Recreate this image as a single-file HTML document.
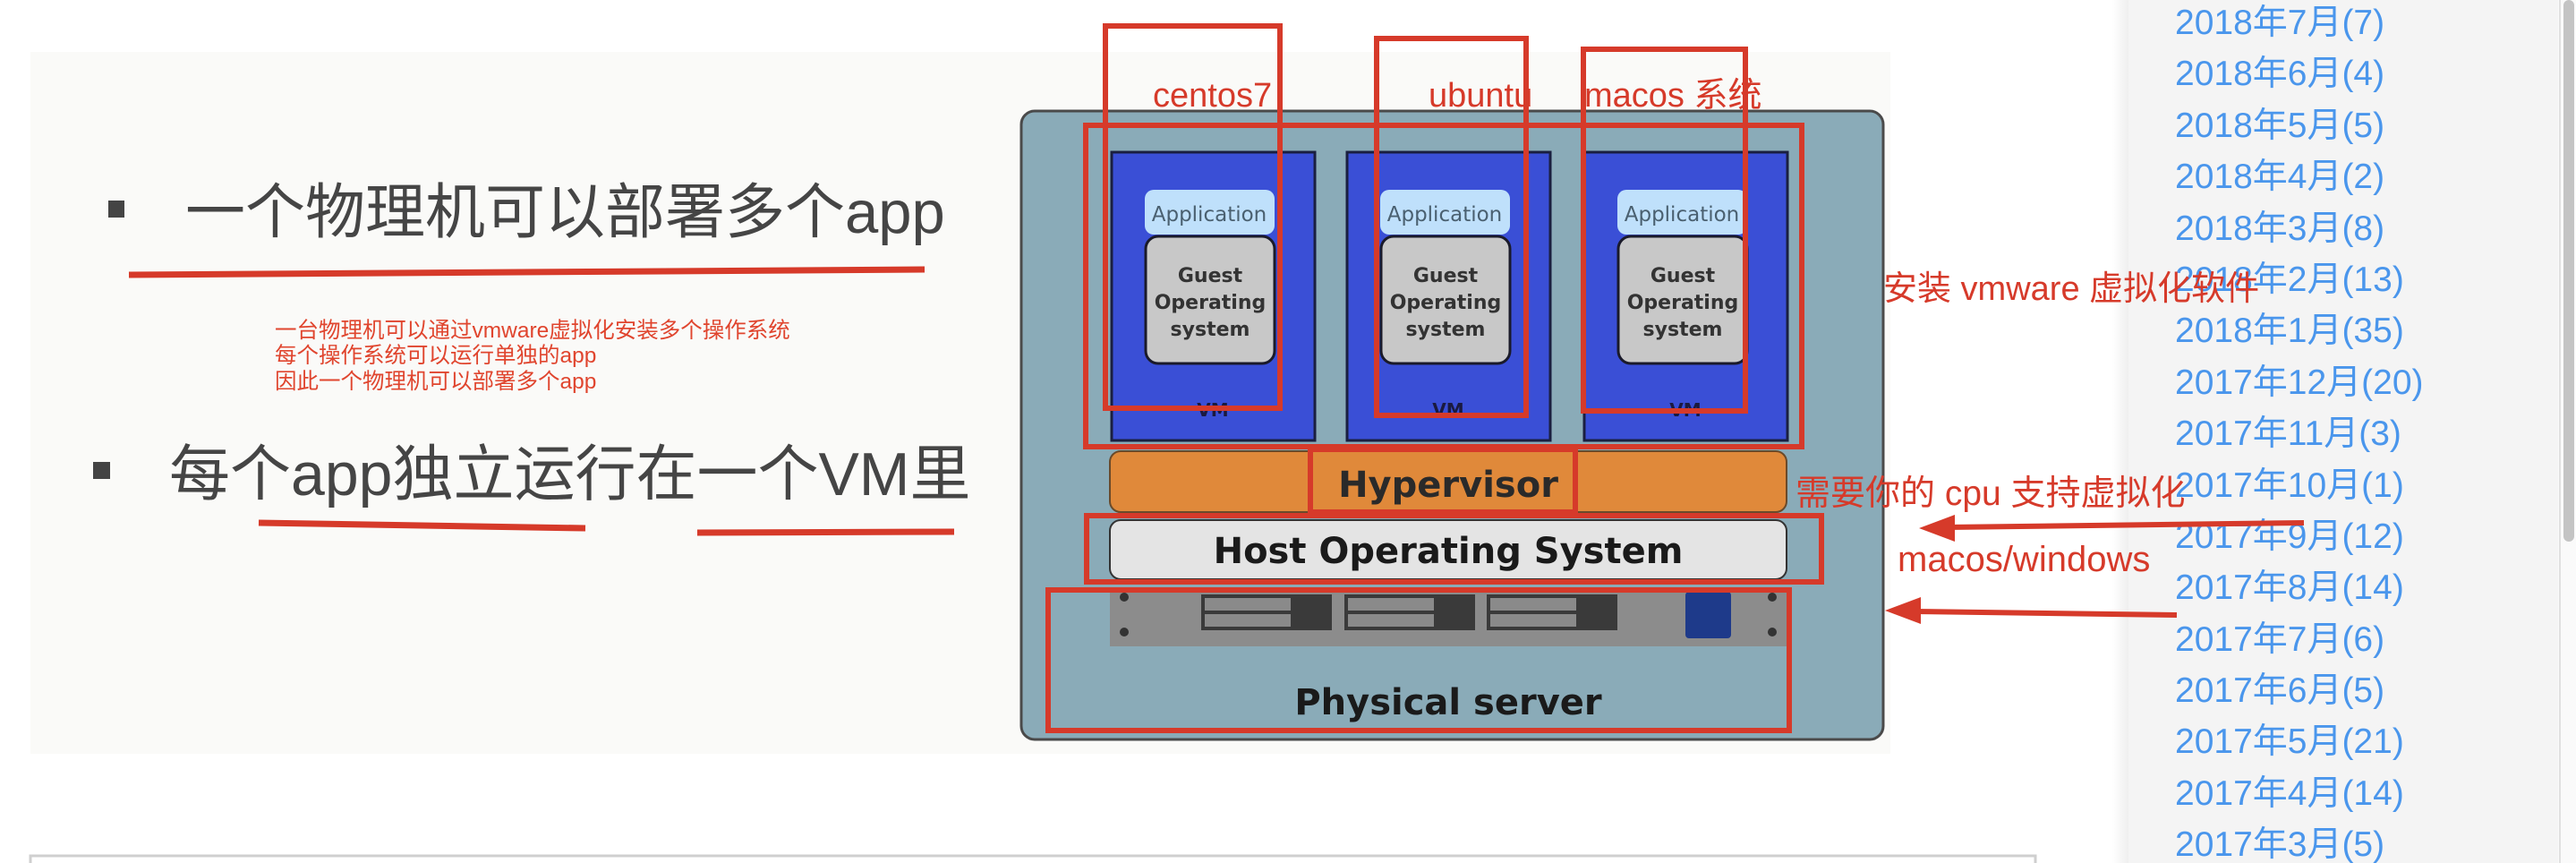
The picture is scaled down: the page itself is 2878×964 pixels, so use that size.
<!DOCTYPE html>
<html><head><meta charset="utf-8"><style>
html,body{margin:0;padding:0;background:#fff;}
svg{display:block;}
</style></head><body>
<svg width="2878" height="964" viewBox="0 0 2878 964" xmlns="http://www.w3.org/2000/svg">
<defs>
<linearGradient id="sh" x1="0" x2="1" y1="0" y2="0">
<stop offset="0" stop-color="#ffffff"/><stop offset="1" stop-color="#e4e4e4"/>
</linearGradient>
</defs>
<rect x="0" y="0" width="2878" height="964" fill="#fff"/>
<rect x="34" y="58" width="2078" height="784" fill="#fafaf8"/>
<rect x="34" y="956" width="2240" height="10" fill="#fff" stroke="#cfcfcf" stroke-width="3"/>

<g font-family="'Liberation Sans','Noto Sans CJK SC',sans-serif" fill="#454545">
<rect x="121" y="224" width="18" height="19" fill="#444"/>
<text x="207" y="260" font-size="67">一个物理机可以部署多个app</text>
<rect x="104" y="516" width="19" height="19" fill="#444"/>
<text x="189" y="553" font-size="68">每个app独立运行在一个VM里</text>
</g>
<g stroke="#d63a2a" stroke-width="7" fill="none">
<line x1="144" y1="307" x2="1033" y2="301"/>
<line x1="289" y1="584" x2="654" y2="590"/>
<line x1="779" y1="595" x2="1066" y2="594"/>
</g>
<g font-family="'Liberation Sans','Noto Sans CJK SC',sans-serif" font-size="24.5" fill="#e0452e">
<text x="307" y="377">一台物理机可以通过vmware虚拟化安装多个操作系统</text>
<text x="307" y="405">每个操作系统可以运行单独的app</text>
<text x="307" y="434">因此一个物理机可以部署多个app</text>
</g>

<rect x="1141" y="124" width="963" height="702" rx="15" fill="#8aabb8" stroke="#4a4a4a" stroke-width="3"/>
<g font-family="'DejaVu Sans','Liberation Sans',sans-serif">
<g>
<rect x="1242" y="170" width="227" height="322" fill="#3a4fd6" stroke="#1a1f40" stroke-width="3"/>
<rect x="1279" y="212" width="145" height="50" rx="10" fill="#bfe0fb"/>
<text x="1351" y="247" font-size="23" text-anchor="middle" fill="#4a6070">Application</text>
<rect x="1280" y="264" width="144" height="142" rx="14" fill="#c8c8c8" stroke="#1a1a2a" stroke-width="3"/>
<text x="1352" y="315" font-size="22" font-weight="bold" text-anchor="middle" fill="#333">Guest</text>
<text x="1352" y="345" font-size="22" font-weight="bold" text-anchor="middle" fill="#333">Operating</text>
<text x="1352" y="375" font-size="22" font-weight="bold" text-anchor="middle" fill="#333">system</text>
<text x="1355" y="465" font-size="20" font-weight="bold" text-anchor="middle" fill="#1a1a40">VM</text>
</g>
<g transform="translate(263,0)">
<rect x="1242" y="170" width="227" height="322" fill="#3a4fd6" stroke="#1a1f40" stroke-width="3"/>
<rect x="1279" y="212" width="145" height="50" rx="10" fill="#bfe0fb"/>
<text x="1351" y="247" font-size="23" text-anchor="middle" fill="#4a6070">Application</text>
<rect x="1280" y="264" width="144" height="142" rx="14" fill="#c8c8c8" stroke="#1a1a2a" stroke-width="3"/>
<text x="1352" y="315" font-size="22" font-weight="bold" text-anchor="middle" fill="#333">Guest</text>
<text x="1352" y="345" font-size="22" font-weight="bold" text-anchor="middle" fill="#333">Operating</text>
<text x="1352" y="375" font-size="22" font-weight="bold" text-anchor="middle" fill="#333">system</text>
<text x="1355" y="465" font-size="20" font-weight="bold" text-anchor="middle" fill="#1a1a40">VM</text>
</g>
<g transform="translate(528,0)">
<rect x="1242" y="170" width="227" height="322" fill="#3a4fd6" stroke="#1a1f40" stroke-width="3"/>
<rect x="1279" y="212" width="145" height="50" rx="10" fill="#bfe0fb"/>
<text x="1351" y="247" font-size="23" text-anchor="middle" fill="#4a6070">Application</text>
<rect x="1280" y="264" width="144" height="142" rx="14" fill="#c8c8c8" stroke="#1a1a2a" stroke-width="3"/>
<text x="1352" y="315" font-size="22" font-weight="bold" text-anchor="middle" fill="#333">Guest</text>
<text x="1352" y="345" font-size="22" font-weight="bold" text-anchor="middle" fill="#333">Operating</text>
<text x="1352" y="375" font-size="22" font-weight="bold" text-anchor="middle" fill="#333">system</text>
<text x="1355" y="465" font-size="20" font-weight="bold" text-anchor="middle" fill="#1a1a40">VM</text>
</g>
<rect x="1240" y="504" width="756" height="68" rx="12" fill="#e0893a" stroke="#6a4a2a" stroke-width="2"/>
<text x="1618" y="555" font-size="40" font-weight="bold" text-anchor="middle" fill="#2a2a2a">Hypervisor</text>
<rect x="1240" y="581" width="756" height="66" rx="12" fill="#e4e4e4" stroke="#333" stroke-width="2"/>
<text x="1618" y="629" font-size="40" font-weight="bold" text-anchor="middle" fill="#1a1a1a">Host Operating System</text>
<rect x="1240" y="660" width="756" height="62" fill="#8c8c8c"/>
<rect x="1342" y="664" width="146" height="40" fill="#3a3a3a"/><rect x="1346" y="668" width="96" height="14" fill="#8a8a8a"/><rect x="1346" y="686" width="96" height="14" fill="#8a8a8a"/>
<rect x="1502" y="664" width="146" height="40" fill="#3a3a3a"/><rect x="1506" y="668" width="96" height="14" fill="#8a8a8a"/><rect x="1506" y="686" width="96" height="14" fill="#8a8a8a"/>
<rect x="1661" y="664" width="146" height="40" fill="#3a3a3a"/><rect x="1665" y="668" width="96" height="14" fill="#8a8a8a"/><rect x="1665" y="686" width="96" height="14" fill="#8a8a8a"/>
<rect x="1883" y="661" width="51" height="52" rx="4" fill="#1e3a8a"/>
<circle cx="1256" cy="667" r="5" fill="#333"/><circle cx="1256" cy="706" r="5" fill="#333"/>
<circle cx="1980" cy="667" r="5" fill="#333"/><circle cx="1980" cy="706" r="5" fill="#333"/>
<text x="1618" y="798" font-size="40" font-weight="bold" text-anchor="middle" fill="#1a1a1a">Physical server</text>
</g>

<g stroke="#d63a2a" stroke-width="6" fill="none">
<rect x="1235" y="29" width="195" height="427"/>
<rect x="1538" y="43" width="167" height="421"/>
<rect x="1769" y="55" width="181" height="404"/>
<rect x="1213" y="140" width="800" height="359"/>
<rect x="1464" y="502" width="296" height="70"/>
<rect x="1214" y="576" width="821" height="74"/>
<rect x="1171" y="659" width="828" height="157"/>
</g>
<g font-family="'Liberation Sans','Noto Sans CJK SC',sans-serif" fill="#d63a2a" font-size="38">
<text x="1288" y="119">centos7</text>
<text x="1596" y="119">ubuntu</text>
<text x="1770" y="119">macos 系统</text>
</g>

<rect x="2360" y="0" width="30" height="964" fill="url(#sh)"/>
<rect x="2378" y="0" width="500" height="964" fill="#f4f4f4"/>
<rect x="2858" y="0" width="20" height="964" fill="#fafafa"/>
<line x1="2860" y1="0" x2="2860" y2="964" stroke="#e0e0e0" stroke-width="2"/>
<rect x="2864" y="0" width="12" height="605" rx="6" fill="#c4c4c4"/>
<g font-family="'Liberation Sans','Noto Sans CJK SC',sans-serif" font-size="39" fill="#4a96ec">
<text x="2430" y="38">2018年7月(7)</text>
<text x="2430" y="95">2018年6月(4)</text>
<text x="2430" y="153">2018年5月(5)</text>
<text x="2430" y="210">2018年4月(2)</text>
<text x="2430" y="268">2018年3月(8)</text>
<text x="2430" y="325">2018年2月(13)</text>
<text x="2430" y="382">2018年1月(35)</text>
<text x="2430" y="440">2017年12月(20)</text>
<text x="2430" y="497">2017年11月(3)</text>
<text x="2430" y="555">2017年10月(1)</text>
<text x="2430" y="612">2017年9月(12)</text>
<text x="2430" y="669">2017年8月(14)</text>
<text x="2430" y="727">2017年7月(6)</text>
<text x="2430" y="784">2017年6月(5)</text>
<text x="2430" y="841">2017年5月(21)</text>
<text x="2430" y="899">2017年4月(14)</text>
<text x="2430" y="956">2017年3月(5)</text>
</g>

<g font-family="'Liberation Sans','Noto Sans CJK SC',sans-serif" fill="#d63a2a">
<text x="2104" y="335" font-size="38">安装 vmware 虚拟化软件</text>
<text x="2006" y="564" font-size="39">需要你的 cpu 支持虚拟化</text>
<text x="2120" y="638" font-size="40">macos/windows</text>
</g>
<g fill="#d63a2a" stroke="#d63a2a">
<line x1="2574" y1="584" x2="2175" y2="589" stroke-width="6"/>
<polygon points="2144,590 2184,575 2184,605" stroke="none"/>
<line x1="2432" y1="687" x2="2137" y2="683" stroke-width="6"/>
<polygon points="2106,682 2146,667 2146,697" stroke="none"/>
</g>
</svg>
</body></html>
